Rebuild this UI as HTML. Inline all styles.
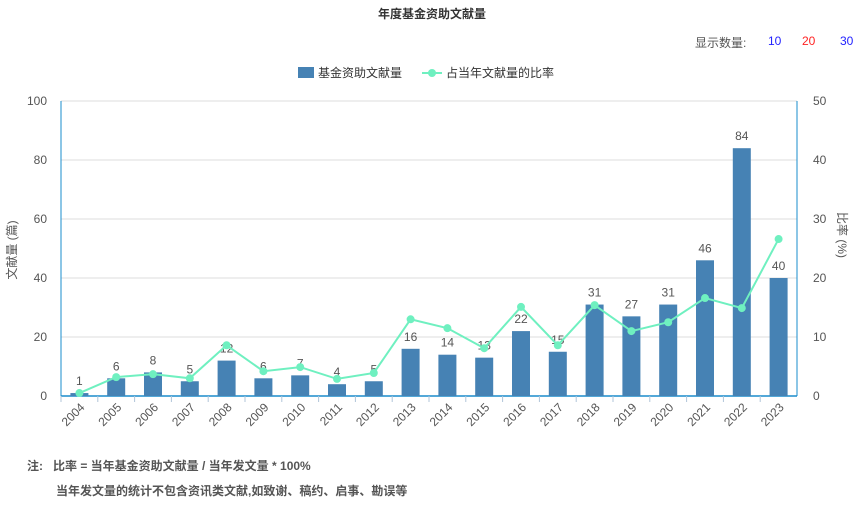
<!DOCTYPE html>
<html><head><meta charset="utf-8"><style>
body{margin:0;width:864px;height:505px;background:#fff;font-family:"Liberation Sans","Noto Sans CJK SC",sans-serif;overflow:hidden;position:relative}
.t{position:absolute;white-space:nowrap}
</style></head><body>
<div class="t" style="left:0;width:864px;text-align:center;top:5px;font-size:12px;font-weight:bold;color:#333">年度基金资助文献量</div>
<div class="t" style="left:695px;top:34px;font-size:12px;color:#555">显示数量:</div>
<div class="t" style="left:768px;top:34px;font-size:12px;color:#22f;cursor:pointer">10</div>
<div class="t" style="left:802px;top:34px;font-size:12px;color:#f22;cursor:pointer">20</div>
<div class="t" style="left:840px;top:34px;font-size:12px;color:#22f;cursor:pointer">30</div>
<svg id="c" width="864" height="505" style="position:absolute;left:0;top:0"></svg>
<div class="t" style="left:27px;top:457px;font-size:12px;font-weight:bold;color:#555">注:&nbsp;&nbsp;&nbsp;比率 = 当年基金资助文献量 / 当年发文量 * 100%</div>
<div class="t" style="left:56px;top:482px;font-size:12px;font-weight:bold;color:#555">当年发文量的统计不包含资讯类文献,如致谢、稿约、启事、勘误等</div>
<script>
const years=["2004","2005","2006","2007","2008","2009","2010","2011","2012","2013","2014","2015","2016","2017","2018","2019","2020","2021","2022","2023"];
const counts=[1,6,8,5,12,6,7,4,5,16,14,13,22,15,31,27,31,46,84,40];
const ratios=[0.5,3.2,3.7,3.0,8.6,4.2,4.9,2.9,3.9,13.0,11.5,8.1,15.1,8.6,15.4,11.0,12.5,16.6,14.9,26.6];
const leftTicks=[0,20,40,60,80,100];
const rightTicks=[0,10,20,30,40,50];
const svg=document.getElementById('c');const NS='http://www.w3.org/2000/svg';
const L=61,R=797,T=101,B=396;
const bw=(R-L)/years.length;
const x=i=>L+bw*(i+0.5);
const yL=v=>B-(B-T)*v/100;
const yR=v=>B-(B-T)*v/50;
function mk(tag,a,txt){const e=document.createElementNS(NS,tag);for(const k in a)e.setAttribute(k,a[k]);if(txt!==undefined)e.textContent=txt;svg.appendChild(e);return e;}
leftTicks.forEach((v,i)=>{
 if(v>0){const g=mk('line',{x1:L,x2:R,y1:yL(v),y2:yL(v),stroke:'#ddd'});
 
 }
 const t=mk('text',{x:L-14,y:yL(v)+4,'text-anchor':'end','font-size':12,fill:'#555'},v);
 
 
});
rightTicks.forEach(v=>{
 const t=mk('text',{x:R+16,y:yR(v)+4,'font-size':12,fill:'#555'},v);
 
 
});
const la=mk('line',{x1:L,x2:L,y1:T,y2:B,stroke:'#1a8ccc'});
const ra=mk('line',{x1:R,x2:R,y1:T,y2:B,stroke:'#1a8ccc'});
const ba=mk('line',{x1:L,x2:R,y1:B,y2:B,stroke:'#1a8ccc','stroke-width':1.5});
years.forEach((y,i)=>{
 const tk=mk('line',{x1:L+bw*i,x2:L+bw*i,y1:B,y2:B+6,stroke:'#b0c4d8'});
 
 
 const b=mk('rect',{x:x(i)-9,y:yL(counts[i]),width:18,height:B-yL(counts[i]),fill:'#4682b4'});
 
 
 const lb=mk('text',{x:x(i),y:yL(counts[i])-8,'text-anchor':'middle','font-size':12,fill:'#555'},counts[i]);
 
 
 const xl=mk('text',{x:x(i)+6,y:B+12,'text-anchor':'end','font-size':12,fill:'#555',transform:`rotate(-45 ${x(i)+6} ${B+12})`},y);
 
 
});
const pl=mk('polyline',{points:ratios.map((v,i)=>x(i)+','+yR(v)).join(' '),fill:'none',stroke:'#6ff0c0','stroke-width':2});


ratios.forEach((v,i)=>{
 const c=mk('circle',{cx:x(i),cy:yR(v),r:4,fill:'#6ff0c0'});
 
 
});
const yt=mk('text',{x:16,y:250,'text-anchor':'middle','font-size':12,fill:'#555',transform:'rotate(-90 16 250)'},'文献量 (篇)');

const yt2=mk('text',{x:838,y:235,'text-anchor':'middle','font-size':12,fill:'#555',transform:'rotate(90 838 235)'},'比率 (%)');

const lg1=mk('rect',{x:298,y:67,width:16,height:11,fill:'#4682b4'});
const lt1=mk('text',{x:318,y:77,'font-size':12,fill:'#333'},'基金资助文献量');
const lg2=mk('line',{x1:422,x2:442,y1:73,y2:73,stroke:'#6ff0c0','stroke-width':2});
const lc=mk('circle',{cx:432,cy:73,r:4,fill:'#6ff0c0'});
const lt2=mk('text',{x:446,y:77,'font-size':12,fill:'#333'},'占当年文献量的比率');
</script>
</body></html>
